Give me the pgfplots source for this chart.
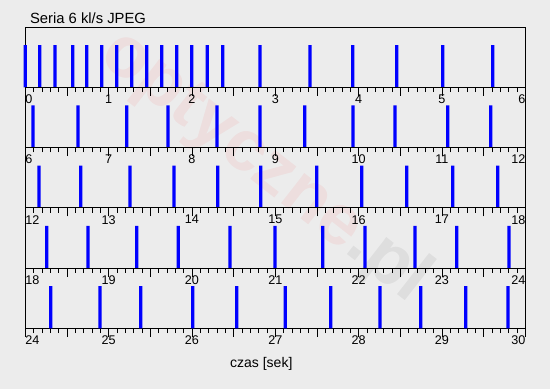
\documentclass[border=0pt]{standalone}
\usepackage{fontspec}
\setmainfont{Liberation Sans}
\usepackage{pgfplots}
\pgfplotsset{compat=1.18}
\definecolor{bg}{RGB}{236,236,236}
\pgfplotsset{strip/.style={
  scale only axis, width=500pt, height=60.25pt,
  ymin=0, ymax=1.43, ytick=\empty,
  xtick pos=left, tick align=inside,
  major tick length=8.5pt, minor tick length=4.8pt,
  minor x tick num=4,
  axis line style={line width=0.9pt, black},
  every tick/.style={black, line width=0.6pt},
  clip=false, ybar, bar width=3.3pt, anchor=south west,
  xticklabel style={font=\fontsize{12.6}{12.6}\selectfont, inner sep=1pt, yshift=2.2pt},
}}
\begin{document}
\begin{tikzpicture}
\path[use as bounding box, fill=bg] (0pt,0pt) rectangle (550pt,389pt);
\node[rotate=-38, opacity=0.06, font=\bfseries\fontsize{72}{72}\selectfont] at (265pt,222pt) {\textcolor{red}{optyczne}\textcolor{black}{.pl}};
\node[anchor=base west, font=\fontsize{14.8}{16}\selectfont] at (26.5pt,365pt) {Seria 6 kl/s JPEG};
\node[anchor=base, font=\fontsize{14}{16}\selectfont] at (261.3pt,21.5pt) {czas [sek]};

\begin{axis}[strip, at={(25.3pt,301.7pt)}, xmin=0, xmax=6,
  xtick={0,0.5,1,1.5,2,2.5,3,3.5,4,4.5,5,5.5,6},
  xticklabels={\rlap{0},,1,,2,,3,,4,,5,,\llap{6}}]
\addplot[fill=blue, draw=none] coordinates {(0.0,1) (0.173,1) (0.356,1) (0.569,1) (0.737,1) (0.917,1) (1.097,1) (1.277,1) (1.457,1) (1.637,1) (1.817,1) (1.997,1) (2.184,1) (2.369,1) (2.816,1) (3.417,1) (3.929,1) (4.457,1) (5.009,1) (5.609,1)};
\end{axis}

\begin{axis}[strip, at={(25.3pt,241.45pt)}, xmin=6, xmax=12,
  xtick={6,6.5,7,7.5,8,8.5,9,9.5,10,10.5,11,11.5,12},
  xticklabels={\rlap{6},,7,,8,,9,,10,,11,,\llap{12}}]
\addplot[fill=blue, draw=none] coordinates {(6.092,1) (6.632,1) (7.217,1) (7.712,1) (8.300,1) (8.816,1) (9.353,1) (9.933,1) (10.437,1) (11.069,1) (11.585,1)};
\end{axis}

\begin{axis}[strip, at={(25.3pt,181.2pt)}, xmin=12, xmax=18,
  xtick={12,12.5,13,13.5,14,14.5,15,15.5,16,16.5,17,17.5,18},
  xticklabels={\rlap{12},,13,,14,,15,,16,,17,,\llap{18}}]
\addplot[fill=blue, draw=none] coordinates {(12.164,1) (12.665,1) (13.256,1) (13.784,1) (14.309,1) (14.825,1) (15.497,1) (16.037,1) (16.577,1) (17.129,1) (17.669,1)};
\end{axis}

\begin{axis}[strip, at={(25.3pt,120.95pt)}, xmin=18, xmax=24,
  xtick={18,18.5,19,19.5,20,20.5,21,21.5,22,22.5,23,23.5,24},
  xticklabels={\rlap{18},,19,,20,,21,,22,,23,,\llap{24}}]
\addplot[fill=blue, draw=none] coordinates {(18.257,1) (18.752,1) (19.337,1) (19.836,1) (20.456,1) (20.996,1) (21.569,1) (22.076,1) (22.676,1) (23.177,1) (23.805,1)};
\end{axis}

\begin{axis}[strip, at={(25.3pt,60.7pt)}, xmin=24, xmax=30,
  xtick={24,24.5,25,25.5,26,26.5,27,27.5,28,28.5,29,29.5,30},
  xticklabels={\rlap{24},,25,,26,,27,,28,,29,,\llap{30}}]
\addplot[fill=blue, draw=none] coordinates {(24.305,1) (24.896,1) (25.385,1) (26.009,1) (26.537,1) (27.120,1) (27.665,1) (28.256,1) (28.745,1) (29.285,1) (29.793,1)};
\end{axis}
\end{tikzpicture}
\end{document}
